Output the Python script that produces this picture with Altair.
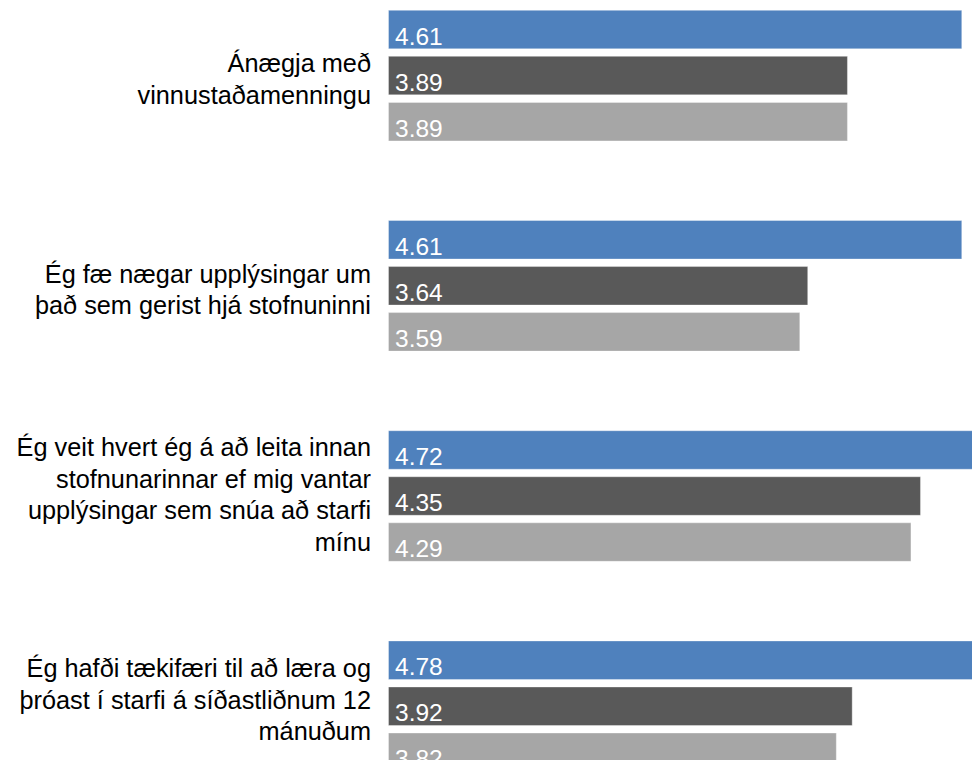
import altair as alt
import pandas as pd

categories = [
    "Ánægja með|vinnustaðamenningu",
    "Ég fæ nægar upplýsingar um|það sem gerist hjá stofnuninni",
    "Ég veit hvert ég á að leita innan|stofnunarinnar ef mig vantar|upplýsingar sem snúa að starfi|mínu",
    "Ég hafði tækifæri til að læra og|þróast í starfi á síðastliðnum 12|mánuðum",
]
series = ["Stofnunin", "Sambærilegar stofnanir", "Allar stofnanir"]
values_s1 = [4.61, 4.61, 4.72, 4.78]
values_s2 = [3.89, 3.64, 4.35, 3.92]
values_s3 = [3.89, 3.59, 4.29, 3.82]
colors = ["#4F81BD", "#595959", "#A6A6A6"]

rows = []
for i, c in enumerate(categories):
    for s, vals in zip(series, [values_s1, values_s2, values_s3]):
        rows.append({"cat": c, "series": s, "value": vals[i], "label": f"{vals[i]:.2f}"})
df = pd.DataFrame(rows)

nlines = "length(split(datum.label, '|'))"
label_offset = alt.ExprRef(
    f"{nlines} == 4 ? -40 : ({nlines} == 3 ? -29.3 : -3.2)"
)

y_enc = alt.Y(
    "cat:N",
    sort=categories,
    scale=alt.Scale(paddingInner=0.343, paddingOuter=0, range=[-1.45, 767.3]),
    axis=alt.Axis(
        title=None,
        labelExpr="split(datum.label, '|')",
        labelFont="Liberation Sans",
        labelFontSize=25.3,
        labelColor="black",
        labelLineHeight=31.7,
        labelPadding=18,
        labelLimit=0,
        labelOffset=label_offset,
        ticks=False,
        domain=False,
        grid=False,
        labelAlign="right",
        labelBaseline="alphabetic",
    ),
)
yoff_enc = alt.YOffset(
    "series:N", sort=series, scale=alt.Scale(paddingInner=0.163, paddingOuter=0.0815)
)
x_scale = alt.Scale(domain=[1, 5], nice=False, zero=False, range=[0, 635.2])

base = alt.Chart(df)

bars = base.mark_bar(stroke="#ffffff", strokeOpacity=0.35, strokeWidth=1).encode(
    x=alt.X("value:Q", scale=x_scale, axis=None),
    x2=alt.datum(1),
    y=y_enc,
    yOffset=yoff_enc,
    color=alt.Color("series:N", sort=series, scale=alt.Scale(domain=series, range=colors), legend=None),
)

texts = base.mark_text(
    align="left", baseline="alphabetic", dy=15, font="Liberation Sans", fontSize=24.5, color="white"
).encode(
    x=alt.value(6.5),
    y=y_enc,
    yOffset=yoff_enc,
    text="label:N",
)

chart = (
    alt.layer(bars, texts)
    .properties(
        width=583.5,
        height=752,
        autosize=alt.AutoSizeParams(type="none"),
        padding={"left": 380.5, "top": 0, "right": 0, "bottom": 0},
    )
    .configure_view(stroke=None)
)

chart.save("out.html", embed_options={"renderer": "svg", "actions": False})
